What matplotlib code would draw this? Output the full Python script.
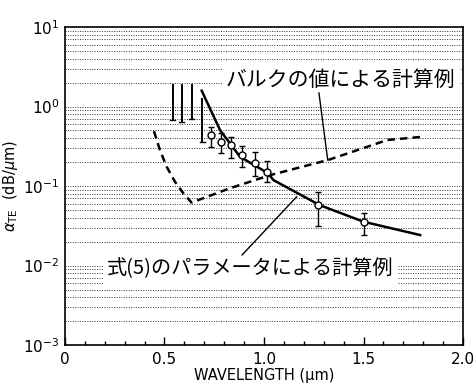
import numpy as np
import matplotlib.pyplot as plt
from matplotlib.ticker import LogLocator, MultipleLocator, NullFormatter

plt.rcParams['font.family'] = ['DejaVu Sans', 'Noto Sans CJK JP']
jp = ['Noto Sans CJK JP', 'DejaVu Sans']

# bulk value calculation (dashed)
bulk_x = [0.447, 0.477, 0.511, 0.553, 0.595, 0.636, 0.83, 1.03, 1.32, 1.62, 1.79]
bulk_y = [0.49, 0.284, 0.175, 0.113, 0.081, 0.062, 0.094, 0.137, 0.212, 0.38, 0.415]

# calculation with eq.(5) parameters (solid)
fit_x = [0.687, 0.779, 0.879, 1.02, 1.047, 1.28, 1.50, 1.784]
fit_y = [1.58, 0.506, 0.234, 0.145, 0.119, 0.0575, 0.0356, 0.0242]

# measured points with error bars
meas_x = [0.734, 0.784, 0.833, 0.888, 0.955, 1.017, 1.27, 1.50]
meas_y = [0.44, 0.36, 0.33, 0.245, 0.193, 0.151, 0.0575, 0.0355]
meas_lo = [0.312, 0.258, 0.224, 0.175, 0.132, 0.112, 0.031, 0.0242]
meas_hi = [0.557, 0.460, 0.417, 0.318, 0.269, 0.204, 0.085, 0.0461]

# range-only bars (no marker)
bar_x = [0.541, 0.586, 0.636, 0.69]
bar_lo = [0.676, 0.631, 0.692, 0.36]
bar_hi = [1.86, 1.86, 1.86, 1.26]

xticks = [0, 0.5, 1.0, 1.5, 2.0]
xticklabels = ['0', '0.5', '1.0', '1.5', '2.0']

fig = plt.figure(figsize=(4.74, 3.86), dpi=100)
ax = fig.add_axes([0.137, 0.106, 0.840, 0.824])
ax.set_yscale('log')

# dotted horizontal grid at every decade step
for dec in range(-3, 1):
    for m in range(1, 10):
        ax.axhline(m * 10.0 ** dec, color='#333333', ls=(0, (1, 1.5)), lw=0.7, zorder=1)

ax.plot(bulk_x, bulk_y, color='black', lw=1.8, ls=(0, (3, 2)), zorder=3)
ax.plot(fit_x, fit_y, color='black', lw=1.8, zorder=3)

yerr = [np.array(meas_y) - np.array(meas_lo), np.array(meas_hi) - np.array(meas_y)]
ax.errorbar(meas_x, meas_y, yerr=yerr, fmt='o', ms=5, mfc='white', mec='black',
            ecolor='black', elinewidth=1.0, capsize=2.5, color='black', zorder=4)
for x, lo, hi in zip(bar_x, bar_lo, bar_hi):
    ax.plot([x, x], [lo, hi], color='black', lw=1.4, zorder=3)
    ax.plot([x - 0.012, x + 0.012], [lo, lo], color='black', lw=1.0, zorder=3)

# annotations
ax.text(1.385, 2.15, 'バルクの値による計算例', family=jp, fontsize=15, ha='center', va='center',
        bbox=dict(facecolor='white', edgecolor='none', pad=3), zorder=5)
ax.plot([1.276, 1.32], [1.48, 0.212], color='black', lw=1.0, zorder=6)
ax.text(0.93, 0.0091, '式(5)のパラメータによる計算例', family=jp, fontsize=14.5, ha='center', va='center',
        bbox=dict(facecolor='white', edgecolor='none', pad=3), zorder=5)
ax.plot([0.89, 1.164], [0.0136, 0.0733], color='black', lw=1.0, zorder=6)

ax.set_xlim(0, 2.0)
ax.set_ylim(1e-3, 10)
ax.set_xticks(xticks)
ax.set_xticklabels(xticklabels, fontsize=11)
ax.xaxis.set_minor_locator(MultipleLocator(0.1))
ax.yaxis.set_major_locator(LogLocator(base=10, numticks=10))
ax.yaxis.set_minor_formatter(NullFormatter())
ax.tick_params(axis='both', which='both', direction='in')
ax.tick_params(axis='x', which='major', length=6, width=1, pad=5)
ax.tick_params(axis='x', which='minor', length=3, width=1)
ax.tick_params(axis='y', which='both', length=0, labelsize=11, pad=4)
for s in ax.spines.values():
    s.set_linewidth(1.2)

ax.set_xlabel('WAVELENGTH (μm)', fontsize=10.5, labelpad=1)
ax.set_ylabel(r'$\alpha_{\rm TE}$  (dB/$\mu$m)', fontsize=10.5, labelpad=2)

fig.savefig('out.png', dpi=100)
